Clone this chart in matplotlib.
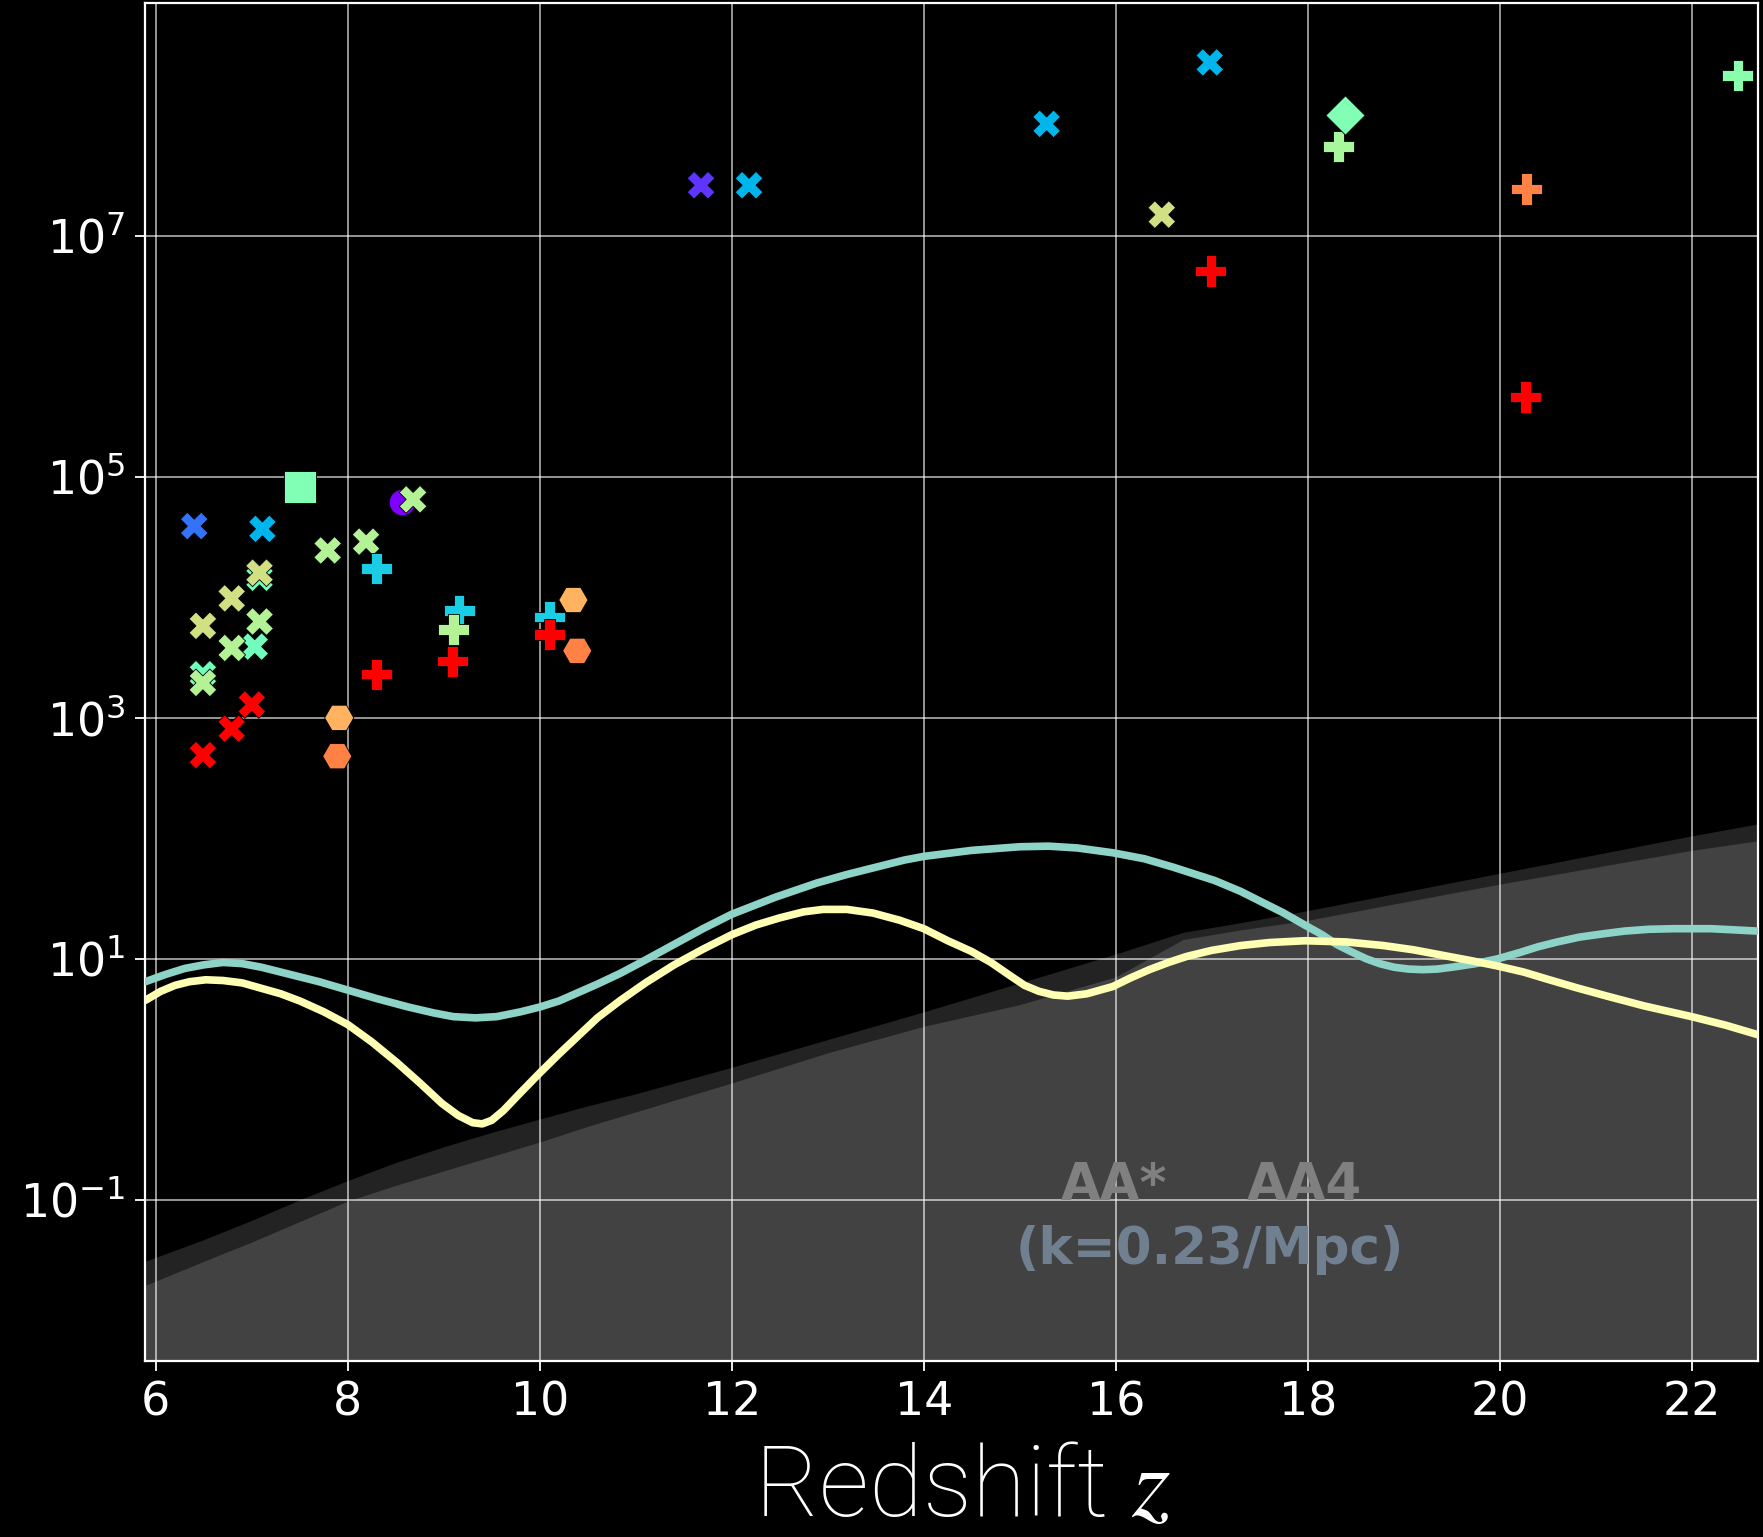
import numpy as np
import matplotlib
matplotlib.use("Agg")
import matplotlib.pyplot as plt
from matplotlib.ticker import NullLocator

plt.style.use("dark_background")

# --- curves (log10 of y) ---
teal_z = [5.89, 6.1, 6.3, 6.5, 6.7, 6.9, 7.1, 7.35, 7.7, 8.0, 8.3, 8.63, 8.9, 9.1, 9.33, 9.55,
          9.8, 10.0, 10.2, 10.4, 10.6, 10.84, 11.1, 11.4, 11.7, 12.0, 12.45, 12.89, 13.2, 13.5,
          13.8, 14.0, 14.5, 15.0, 15.3, 15.6, 15.97, 16.3, 16.6, 17.03, 17.3, 17.5, 17.75,
          17.97, 18.15, 18.3, 18.45, 18.61, 18.75, 18.9, 19.05, 19.2, 19.35, 19.5, 19.75,
          19.98, 20.2, 20.4, 20.6, 20.83, 21.1, 21.3, 21.55, 21.82, 22.2, 22.45, 22.69]
teal_log = [0.81, 0.87, 0.92, 0.95, 0.97, 0.96, 0.93, 0.88, 0.81, 0.74, 0.67, 0.60, 0.55, 0.52,
            0.51, 0.52, 0.56, 0.60, 0.65, 0.72, 0.79, 0.88, 0.99, 1.12, 1.25, 1.37, 1.51, 1.63,
            1.70, 1.76, 1.82, 1.85, 1.90, 1.93, 1.935, 1.92, 1.88, 1.83, 1.76, 1.65, 1.56,
            1.48, 1.38, 1.28, 1.20, 1.12, 1.06, 1.00, 0.96, 0.93, 0.915, 0.91, 0.915, 0.93,
            0.96, 1.00, 1.05, 1.10, 1.14, 1.18, 1.21, 1.23, 1.245, 1.25, 1.25, 1.24, 1.23]

yellow_z = [5.89, 6.05, 6.2, 6.35, 6.52, 6.7, 6.9, 7.1, 7.3, 7.5, 7.75, 8.0, 8.25, 8.51, 8.75,
            8.98, 9.15, 9.3, 9.4, 9.5, 9.62, 9.8, 10.0, 10.2, 10.4, 10.6, 10.84, 11.1, 11.4,
            11.7, 12.0, 12.25, 12.5, 12.75, 12.95, 13.2, 13.47, 13.75, 14.0, 14.25, 14.5, 14.7,
            14.9, 15.05, 15.2, 15.35, 15.5, 15.7, 15.97, 16.15, 16.35, 16.55, 16.74, 17.0,
            17.3, 17.6, 17.97, 18.4, 18.79, 19.1, 19.4, 19.7, 19.98, 20.25, 20.5, 20.8, 21.12,
            21.5, 22.0, 22.35, 22.69]
yellow_log = [0.655, 0.73, 0.78, 0.81, 0.826, 0.82, 0.80, 0.755, 0.71, 0.65, 0.56, 0.454, 0.31,
              0.14, -0.03, -0.20, -0.30, -0.36, -0.37, -0.34, -0.26, -0.11, 0.053, 0.21, 0.36,
              0.51, 0.655, 0.80, 0.95, 1.08, 1.20, 1.28, 1.34, 1.39, 1.41, 1.41, 1.38, 1.32,
              1.25, 1.15, 1.06, 0.97, 0.86, 0.78, 0.73, 0.70, 0.69, 0.71, 0.77, 0.84, 0.91,
              0.97, 1.02, 1.07, 1.11, 1.135, 1.15, 1.14, 1.11, 1.075, 1.03, 0.985, 0.94, 0.89,
              0.83, 0.76, 0.69, 0.61, 0.52, 0.45, 0.37]

# --- shaded limits (log10 of upper edge) ---
band_z = [5.89, 6.5, 7.0, 7.5, 8.0, 8.5, 9.0, 9.5, 10.0, 10.5, 11.0, 11.5, 12.0, 13.0, 14.0,
          15.0, 16.0, 16.7, 17.3, 18.0, 20.0, 22.0, 22.69]
band_outer_log = [-1.51, -1.33, -1.17, -1.00, -0.84, -0.69, -0.56, -0.44, -0.33, -0.22, -0.12,
                  -0.01, 0.10, 0.33, 0.56, 0.80, 1.04, 1.22, 1.30, 1.40, 1.71, 2.02, 2.12]
band_inner_log = [-1.71, -1.51, -1.35, -1.18, -1.01, -0.88, -0.76, -0.64, -0.52, -0.39, -0.27,
                  -0.15, -0.03, 0.22, 0.44, 0.62, 0.85, 1.16, 1.24, 1.32, 1.62, 1.90, 1.98]

# --- data points: redshift, value, colour (rainbow fraction) ---
x_z = [7.08, 7.03, 6.49, 6.40, 7.11, 7.08, 6.79, 6.49, 7.08, 6.79, 6.49, 7.79, 8.19, 8.68,
       7.00, 6.79, 6.49, 11.68, 12.18, 15.28, 16.98, 16.48]
x_val = [1.45e4, 3.9e3, 2.3e3, 3.9e4, 3.7e4, 1.6e4, 9.8e3, 5.8e3, 6.3e3, 3.8e3, 1.95e3, 2.45e4,
         2.9e4, 6.5e4, 1.29e3, 8.1e2, 4.9e2, 2.63e7, 2.63e7, 8.5e7, 2.75e8, 1.5e7]
x_c = [0.47, 0.47, 0.47, 0.15, 0.25, 0.66, 0.66, 0.66, 0.6, 0.6, 0.6, 0.6, 0.6, 0.6,
       1.0, 1.0, 1.0, 0.07, 0.25, 0.25, 0.25, 0.66]

p_z = [8.30, 9.16, 10.10, 9.10, 9.09, 8.30, 10.10, 16.99, 20.27, 20.28, 18.32, 22.48]
p_val = [1.74e4, 7.8e3, 6.9e3, 5.4e3, 2.95e3, 2.3e3, 4.9e3, 5.1e6, 4.6e5, 2.45e7, 5.5e7, 2.14e8]
p_c = [0.3, 0.3, 0.3, 0.6, 1.0, 1.0, 1.0, 1.0, 1.0, 0.83, 0.58, 0.52]

h_z = [7.91, 7.89, 10.35, 10.39]
h_val = [1.0e3, 4.8e2, 9.5e3, 3.6e3]
h_c = [0.75, 0.83, 0.75, 0.83]

sq_z, sq_val, sq_c = [7.50], [8.3e4], [0.5]
d_z, d_val, d_c = [18.39], [1.0e8], [0.5]
o_z, o_val, o_c = [8.56], [6.2e4], [0.0]

fig = plt.figure(figsize=(17.63, 15.37), dpi=100)
ax = fig.add_axes([0.0822, 0.1145, 0.9149, 0.8835])
ax.set_facecolor("black")
ax.set_yscale("log")

ax.fill_between(band_z, 1e-5, np.power(10.0, band_outer_log), color="#232323", lw=0, zorder=1)
ax.fill_between(band_z, 1e-5, np.power(10.0, band_inner_log), color="#424242", lw=0, zorder=1.1)

ax.plot(teal_z, np.power(10.0, teal_log), color="#8dd3c7", lw=5.5, zorder=3,
        solid_joinstyle="round", solid_capstyle="round")
ax.plot(yellow_z, np.power(10.0, yellow_log), color="#feffb3", lw=5.5, zorder=3,
        solid_joinstyle="round", solid_capstyle="round")

kw = dict(cmap="rainbow", vmin=0, vmax=1, edgecolors="black", linewidths=0.6, zorder=4)
ax.scatter(o_z, o_val, c=o_c, marker="o", s=19**2, **kw)
ax.scatter(x_z, x_val, c=x_c, marker="X", s=20**2, **kw)
ax.scatter(p_z, p_val, c=p_c, marker="P", s=22.5**2, **kw)
ax.scatter(h_z, h_val, c=h_c, marker="H", s=21**2, **kw)
ax.scatter(sq_z, sq_val, c=sq_c, marker="s", s=23**2, **kw)
ax.scatter(d_z, d_val, c=d_c, marker="D", s=20**2, **kw)

ax.text(15.43, 10**-1.0, "AA*", color="#808080", fontsize=37, fontweight="bold", va="baseline", zorder=2)
ax.text(17.36, 10**-1.0, "AA4", color="#808080", fontsize=37, fontweight="bold", va="baseline", zorder=2)
ax.text(16.98, 10**-1.53, "(k=0.23/Mpc)", color="#708090", fontsize=37, fontweight="bold",
        ha="center", va="baseline", zorder=2)

ax.set_xlim(5.886, 22.69)
ax.set_ylim(10**-2.338, 10**8.932)
ax.set_xticks(range(6, 23, 2))
ax.set_yticks([1e-1, 1e1, 1e3, 1e5, 1e7])
ax.yaxis.set_minor_locator(NullLocator())
ax.grid(True, color="white", lw=1.1, alpha=0.75)
ax.tick_params(labelsize=33, length=7, width=1.3, pad=7)
for s in ax.spines.values():
    s.set_linewidth(1.6)
    s.set_color("white")

lab = ax.set_xlabel("Redshift $z$", fontsize=71, family="Roboto", fontweight="light",
                    math_fontfamily="stix")
ax.xaxis.set_label_coords(0.507, -0.114)
lab.set_va("baseline")

fig.savefig("out.png", dpi=100, facecolor="black")
